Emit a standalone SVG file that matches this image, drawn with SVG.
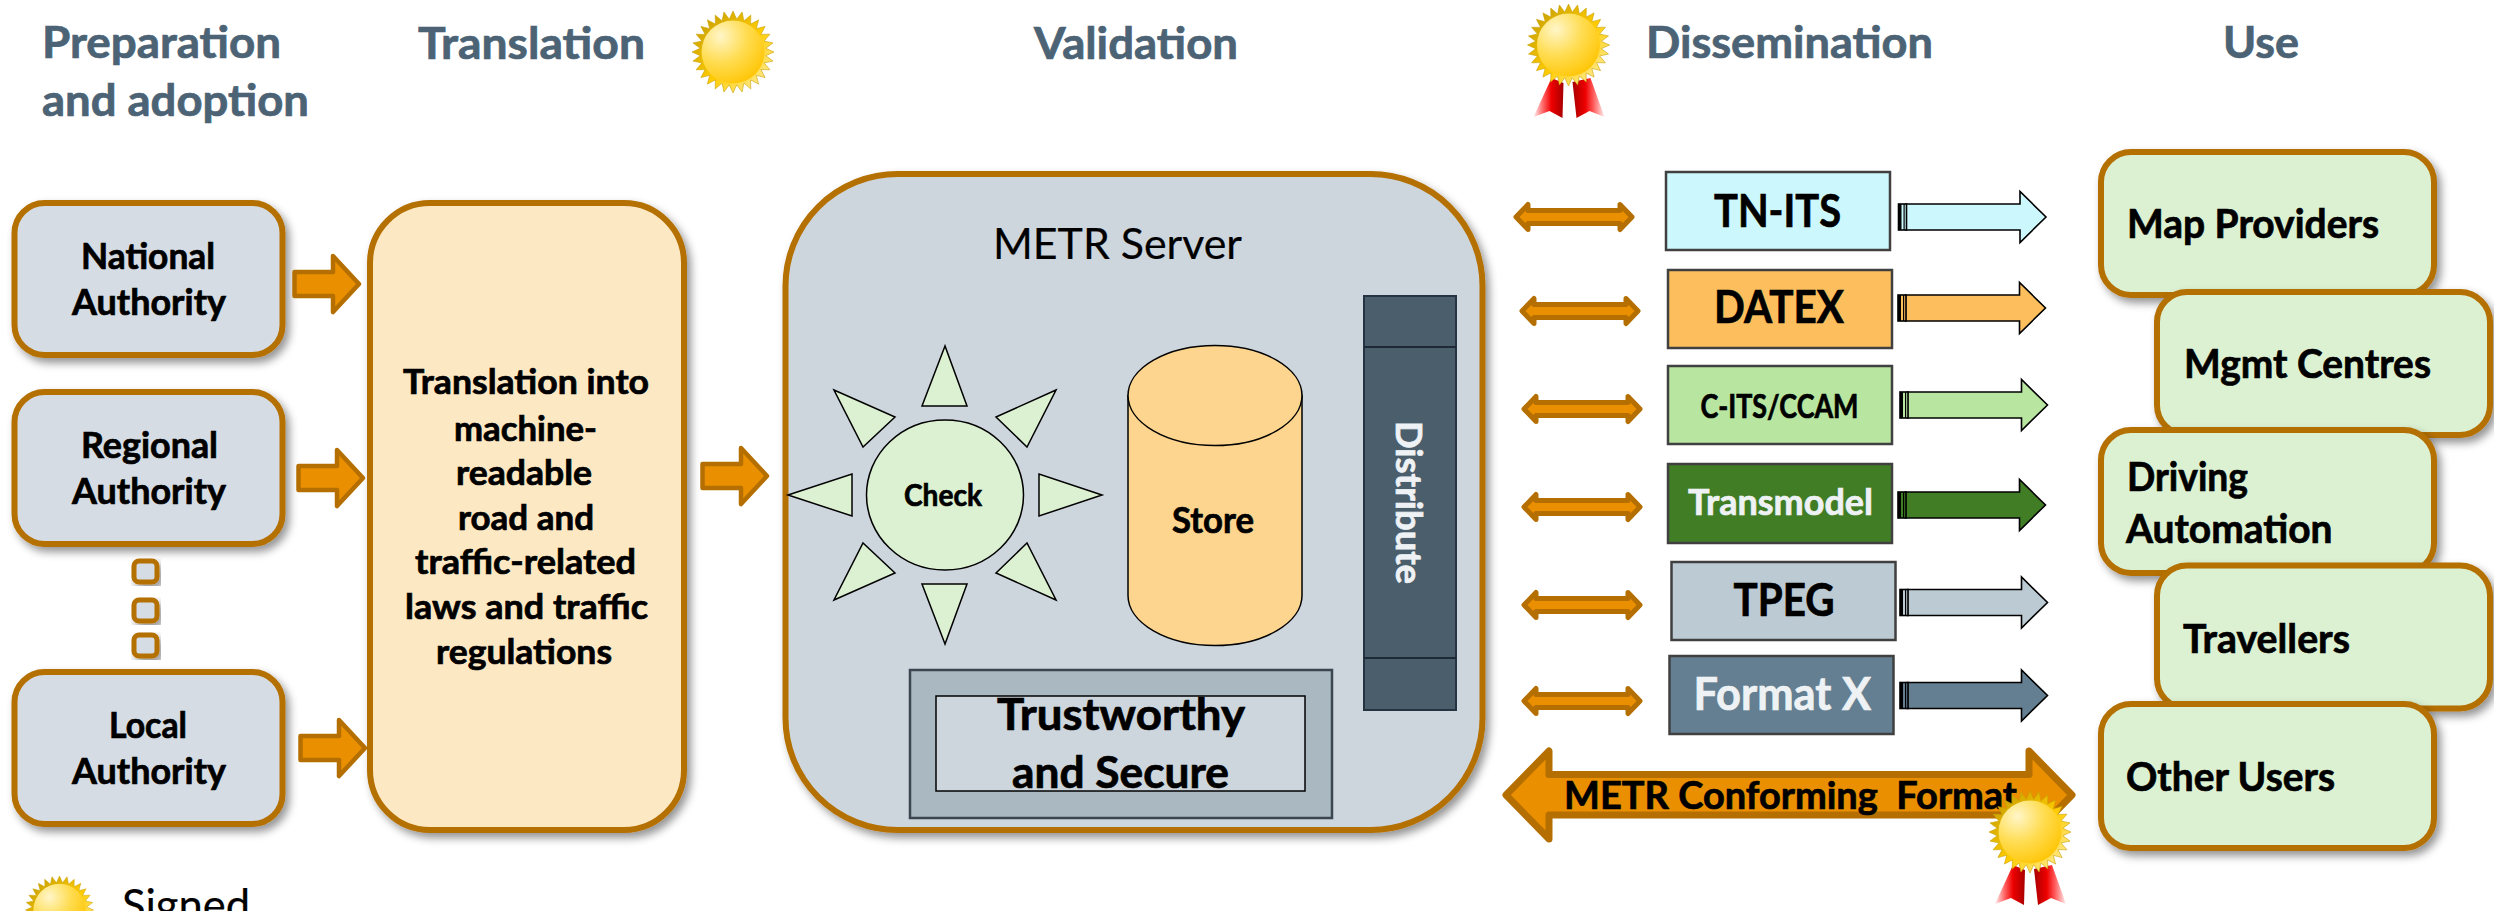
<svg xmlns="http://www.w3.org/2000/svg" xmlns:xlink="http://www.w3.org/1999/xlink" width="2494" height="911" viewBox="0 0 2494 911">
<style>
text{font-family:"Lato","Liberation Sans",sans-serif;font-weight:700;fill:#000;stroke:#000;stroke-width:.7}
.title{font-size:43px;fill:#4b6375;stroke:#4b6375}
.node{font-size:36px}
.trans{font-size:34px}
.use{font-size:40px}
.fmt{font-size:46px}
.light{fill:#eef2f4;stroke:#eef2f4}
.reg{font-weight:400;stroke-width:.2}
.oc{fill:#d6dce3;stroke:#b46f00;stroke-width:6;filter:url(#sh)}
.gr{fill:#dcf1d2;stroke:#b46f00;stroke-width:6;filter:url(#sh)}
.o{fill:#ea8f00;stroke:#b46f00;stroke-linejoin:round}
.tri{fill:#dcf1d2;stroke:#000;stroke-width:1.5}
.fbox{stroke:#404040;stroke-width:2.5}
</style>
<defs>
<filter id="sh" x="-10%" y="-10%" width="125%" height="125%"><feDropShadow dx="4" dy="5" stdDeviation="4" flood-color="#000" flood-opacity="0.42"/></filter>
<radialGradient id="disc" cx="0.3" cy="0.25" r="0.85"><stop offset="0" stop-color="#fff6c8"/><stop offset="0.5" stop-color="#ffdc50"/><stop offset="1" stop-color="#ffc400"/></radialGradient>
<linearGradient id="rays" x1="0.1" y1="0.1" x2="0.9" y2="0.9"><stop offset="0" stop-color="#c9a000"/><stop offset="0.55" stop-color="#ffcc00"/><stop offset="1" stop-color="#ffec9a"/></linearGradient>
<linearGradient id="ribL" x1="0" y1="0" x2="1" y2="0"><stop offset="0" stop-color="#fff0f0"/><stop offset="0.35" stop-color="#ff5a5a"/><stop offset="0.6" stop-color="#ee0000"/><stop offset="1" stop-color="#a80000"/></linearGradient>
<linearGradient id="ribR" x1="0" y1="0" x2="1" y2="0"><stop offset="0" stop-color="#a80000"/><stop offset="0.4" stop-color="#ee0000"/><stop offset="0.65" stop-color="#ff5a5a"/><stop offset="1" stop-color="#fff0f0"/></linearGradient>
<g id="sun">
<polygon fill="url(#rays)" stroke="#c9a000" stroke-width="0.6" points="0,-41 3.7,-32.8 9.1,-40 10.9,-31.1 17.8,-36.9 17.6,-27.9 25.6,-32.1 23.3,-23.3 32.1,-25.6 27.9,-17.6 36.9,-17.8 31.1,-10.9 40,-9.1 32.8,-3.7 41,0 32.8,3.7 40,9.1 31.1,10.9 36.9,17.8 27.9,17.6 32.1,25.6 23.3,23.3 25.6,32.1 17.6,27.9 17.8,36.9 10.9,31.1 9.1,40 3.7,32.8 0,41 -3.7,32.8 -9.1,40 -10.9,31.1 -17.8,36.9 -17.6,27.9 -25.6,32.1 -23.3,23.3 -32.1,25.6 -27.9,17.6 -36.9,17.8 -31.1,10.9 -40,9.1 -32.8,3.7 -41,0 -32.8,-3.7 -40,-9.1 -31.1,-10.9 -36.9,-17.8 -27.9,-17.6 -32.1,-25.6 -23.3,-23.3 -25.6,-32.1 -17.6,-27.9 -17.8,-36.9 -10.9,-31.1 -9.1,-40 -3.7,-32.8"/>
<circle r="31.5" fill="url(#disc)"/>
</g>
<g id="medal">
<polygon fill="url(#ribL)" points="-17,33 -35,72 -19,66 -6,73 -5,38"/>
<polygon fill="url(#ribR)" points="4,37 8,73 21,66 36,72 22,33"/>
<use href="#sun"/>
</g>
<path id="oa" class="o" stroke-width="4.5" d="M2.5 -12 H41 V-28 L67 0 L41 28 V12 H2.5 Z"/>
<path id="da" class="o" stroke-width="5" d="M-58 0 L-46 -12.5 V-6.5 H46 V-12.5 L58 0 L46 12.5 V6.5 H-46 V12.5 Z"/>
<g id="ra">
<path stroke="#000" stroke-width="1.6" d="M8 -13 H122 V-25.5 L148 0 L122 25.5 V13 H8 Z"/>
<rect x="0.5" y="-13" width="8" height="26" stroke="#000" stroke-width="1.6"/>
<rect x="0.5" y="-13" width="3" height="26" fill="#000"/>
<rect x="5.5" y="-13" width="1.2" height="26" fill="#000"/>
</g>
</defs>
<rect width="2494" height="911" fill="#fff"/>

<g id="titles">
<text class="title" x="42" y="58" textLength="239" lengthAdjust="spacingAndGlyphs">Preparation</text>
<text class="title" x="42" y="116" textLength="267" lengthAdjust="spacingAndGlyphs">and adoption</text>
<text class="title" x="418" y="59" textLength="227" lengthAdjust="spacingAndGlyphs">Translation</text>
<text class="title" x="1034" y="59" textLength="204" lengthAdjust="spacingAndGlyphs">Validation</text>
<text class="title" x="1646" y="58" textLength="287" lengthAdjust="spacingAndGlyphs">Dissemination</text>
<text class="title" x="2223" y="58" textLength="76" lengthAdjust="spacingAndGlyphs">Use</text>
</g>

<g id="icons-top">
<use href="#sun" x="733" y="52"/>
<use href="#medal" x="1568.5" y="45"/>
</g>

<g id="legend">
<use href="#sun" transform="translate(59.5 910) scale(.83)"/>
<text class="reg" x="122" y="921" font-size="44" textLength="128" lengthAdjust="spacingAndGlyphs">Signed</text>
</g>

<g id="national-authority">
<rect class="oc" x="14.5" y="203" width="268" height="152" rx="30"/>
<text class="node" x="81" y="269" textLength="134" lengthAdjust="spacingAndGlyphs">National</text>
<text class="node" x="72" y="315" textLength="154" lengthAdjust="spacingAndGlyphs">Authority</text>
</g>
<g id="regional-authority">
<rect class="oc" x="14.5" y="392" width="268" height="152" rx="30"/>
<text class="node" x="81" y="458" textLength="137" lengthAdjust="spacingAndGlyphs">Regional</text>
<text class="node" x="72" y="504" textLength="154" lengthAdjust="spacingAndGlyphs">Authority</text>
</g>
<g id="dots">
<rect class="oc" x="134" y="561" width="23" height="21" rx="5" style="stroke-width:5"/>
<rect class="oc" x="134" y="600" width="23" height="21" rx="5" style="stroke-width:5"/>
<rect class="oc" x="134" y="635" width="23" height="21" rx="5" style="stroke-width:5"/>
</g>
<g id="local-authority">
<rect class="oc" x="14.5" y="672" width="268" height="152" rx="30"/>
<text class="node" x="109" y="738" textLength="78" lengthAdjust="spacingAndGlyphs">Local</text>
<text class="node" x="72" y="784" textLength="154" lengthAdjust="spacingAndGlyphs">Authority</text>
</g>

<g id="translation">
<rect x="370" y="203" width="314" height="627" rx="60" fill="#fde8c4" stroke="#b46f00" stroke-width="6" filter="url(#sh)"/>
<text class="trans" x="403" y="394" textLength="246" lengthAdjust="spacingAndGlyphs">Translation into</text>
<text class="trans" x="454" y="441" textLength="143" lengthAdjust="spacingAndGlyphs">machine-</text>
<text class="trans" x="456" y="485" textLength="136" lengthAdjust="spacingAndGlyphs">readable</text>
<text class="trans" x="458" y="530" textLength="136" lengthAdjust="spacingAndGlyphs">road and</text>
<text class="trans" x="415" y="574" textLength="221" lengthAdjust="spacingAndGlyphs">traffic-related</text>
<text class="trans" x="405" y="619" textLength="243" lengthAdjust="spacingAndGlyphs">laws and traffic</text>
<text class="trans" x="436" y="664" textLength="176" lengthAdjust="spacingAndGlyphs">regulations</text>
</g>

<g id="metr-server">
<rect x="785.5" y="174" width="697" height="656" rx="112" fill="#cdd5dd" stroke="#b46f00" stroke-width="6" filter="url(#sh)"/>
<text class="reg" x="993" y="259" font-size="43" textLength="249" lengthAdjust="spacingAndGlyphs">METR Server</text>
</g>
<g id="check">
<polygon class="tri" points="945,346 922,406 967,406"/>
<polygon class="tri" points="945,644 922,584 967,584"/>
<polygon class="tri" points="788,495 852,474 852,516"/>
<polygon class="tri" points="1102,495 1039,474 1039,516"/>
<polygon class="tri" points="834,390 895,417 863,447"/>
<polygon class="tri" points="1056,390 996,417 1027,447"/>
<polygon class="tri" points="834,600 895,573 863,543"/>
<polygon class="tri" points="1056,600 996,573 1027,543"/>
<ellipse class="tri" cx="945" cy="495" rx="78.5" ry="75"/>
<text x="904" y="506" font-size="31" textLength="78" lengthAdjust="spacingAndGlyphs">Check</text>
</g>
<g id="store">
<path d="M1128 395.5 V595.5 A87 50 0 0 0 1302 595.5 V395.5 Z" fill="#fdd58f" stroke="#000" stroke-width="1.5"/>
<ellipse cx="1215" cy="395.5" rx="87" ry="50" fill="#fdd58f" stroke="#000" stroke-width="1.5"/>
<text x="1172" y="533" font-size="37" textLength="82" lengthAdjust="spacingAndGlyphs">Store</text>
</g>
<g id="distribute">
<rect x="1364" y="296" width="92" height="414" fill="#4b5e6c" stroke="#263340" stroke-width="2"/>
<path d="M1364 347 H1456 M1364 658 H1456" stroke="#1d2a35" stroke-width="2" fill="none"/>
<text class="light" transform="translate(1396 421) rotate(90)" font-size="36" textLength="163" lengthAdjust="spacingAndGlyphs">Distribute</text>
</g>
<g id="trustworthy">
<rect x="910" y="670" width="422" height="148" fill="#a9b8c1" stroke="#3a4650" stroke-width="2.5"/>
<rect x="936" y="696" width="369" height="95" fill="#cdd5dd" stroke="#000" stroke-width="1.5"/>
<text x="997" y="730" font-size="43" textLength="248" lengthAdjust="spacingAndGlyphs">Trustworthy</text>
<text x="1012" y="788" font-size="43" textLength="217" lengthAdjust="spacingAndGlyphs">and Secure</text>
</g>

<g id="tn-its">
<rect class="fbox" x="1666" y="172" width="224" height="78" fill="#ccf7fc"/>
<text class="fmt" x="1714" y="227" textLength="127" lengthAdjust="spacingAndGlyphs">TN-ITS</text>
</g>
<g id="datex">
<rect class="fbox" x="1668" y="270" width="224" height="78" fill="#fdbf5d"/>
<text class="fmt" x="1714" y="323" textLength="130" lengthAdjust="spacingAndGlyphs">DATEX</text>
</g>
<g id="c-its">
<rect class="fbox" x="1668" y="366" width="224" height="78" fill="#b8e6a0"/>
<text x="1700.5" y="418" font-size="32" textLength="158" lengthAdjust="spacingAndGlyphs">C-ITS/CCAM</text>
</g>
<g id="transmodel">
<rect class="fbox" x="1668" y="464" width="224" height="79" fill="#417d25"/>
<text class="light" x="1688" y="515" font-size="36" textLength="185" lengthAdjust="spacingAndGlyphs">Transmodel</text>
</g>
<g id="tpeg">
<rect class="fbox" x="1671.5" y="562" width="224" height="78" fill="#bccad3"/>
<text class="fmt" x="1733.5" y="616" textLength="101" lengthAdjust="spacingAndGlyphs">TPEG</text>
</g>
<g id="format-x">
<rect class="fbox" x="1669.5" y="656" width="224" height="78" fill="#647f91"/>
<text class="light" x="1693.5" y="710" font-size="45" textLength="177.5" lengthAdjust="spacingAndGlyphs">Format X</text>
</g>

<g id="connectors">
<use href="#oa" x="292" y="284"/>
<use href="#oa" x="296" y="478"/>
<use href="#oa" x="298" y="748"/>
<use href="#oa" x="700" y="476"/>
<use href="#da" x="1574" y="217"/>
<use href="#da" x="1580" y="311"/>
<use href="#da" x="1582" y="409"/>
<use href="#da" x="1582" y="507"/>
<use href="#da" x="1582" y="605"/>
<use href="#da" x="1582" y="701"/>
<use href="#ra" x="1898" y="217" fill="#ccf7fc"/>
<use href="#ra" x="1897.5" y="308" fill="#fdbf5d"/>
<use href="#ra" x="1899.5" y="405" fill="#b8e6a0"/>
<use href="#ra" x="1897.5" y="505" fill="#417d25"/>
<use href="#ra" x="1899.5" y="602.5" fill="#bccad3"/>
<use href="#ra" x="1899.5" y="695.5" fill="#647f91"/>
</g>

<g id="metr-conforming-format">
<path class="o" stroke-width="7" d="M1506 795 L1549 751 V774.5 H2029 V751 L2072 795 L2029 839 V815 H1549 V839 Z"/>
<text x="1564" y="809" font-size="38" textLength="453" lengthAdjust="spacingAndGlyphs" xml:space="preserve">METR Conforming  Format</text>
<use href="#medal" x="2030" y="832"/>
</g>

<g id="map-providers">
<rect class="gr" x="2101" y="152" width="333" height="143" rx="30"/>
<text class="use" x="2127" y="238" textLength="252" lengthAdjust="spacingAndGlyphs">Map Providers</text>
</g>
<g id="mgmt-centres">
<rect class="gr" x="2157" y="292" width="333" height="143" rx="30"/>
<text class="use" x="2184" y="378" textLength="247" lengthAdjust="spacingAndGlyphs">Mgmt Centres</text>
</g>
<g id="driving-automation">
<rect class="gr" x="2101" y="430" width="333" height="143" rx="30"/>
<text class="use" x="2127" y="491" textLength="121" lengthAdjust="spacingAndGlyphs">Driving</text>
<text class="use" x="2126" y="543" textLength="206.5" lengthAdjust="spacingAndGlyphs">Automation</text>
</g>
<g id="travellers">
<rect class="gr" x="2157" y="565.5" width="333" height="143" rx="30"/>
<text class="use" x="2183" y="652.5" textLength="167" lengthAdjust="spacingAndGlyphs">Travellers</text>
</g>
<g id="other-users">
<rect class="gr" x="2101" y="704" width="333" height="144" rx="30"/>
<text class="use" x="2126" y="791" textLength="209" lengthAdjust="spacingAndGlyphs">Other Users</text>
</g>
</svg>
